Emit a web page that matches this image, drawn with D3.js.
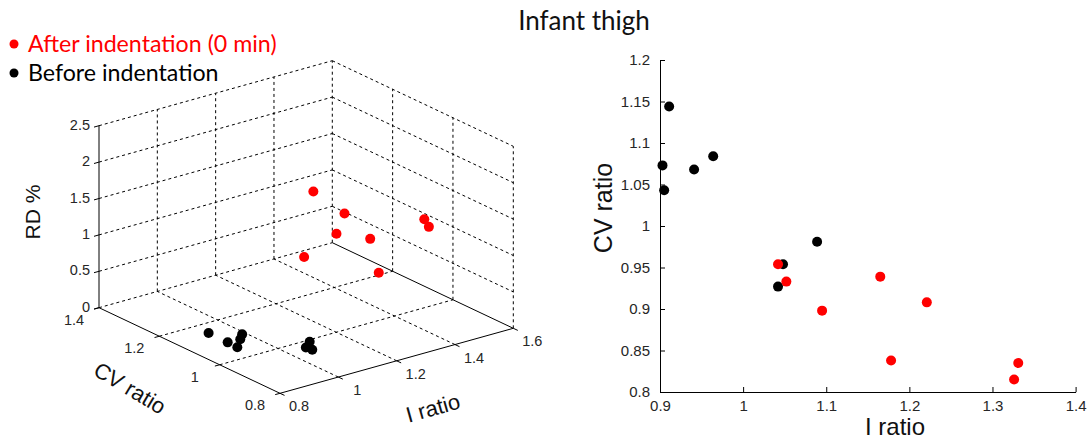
<!DOCTYPE html>
<html>
<head>
<meta charset="utf-8">
<script src="https://cdn.jsdelivr.net/npm/d3@7"></script>
<style>
  body { margin: 0; background: #fff; }
  svg { display: block; }
</style>
</head>
<body>
<div id="chart"></div>
<script>
// Data: after indentation (red) and before indentation (black)
const iAfter  = [1.042, 1.052, 1.095, 1.165, 1.221, 1.178, 1.331, 1.326];
const cvAfter = [0.954, 0.933, 0.898, 0.939, 0.908, 0.838, 0.835, 0.815];
const rdAfter = [1.30, 2.23, 1.67, 1.79, 1.44, 1.16, 1.73, 1.67];

const iBefore  = [0.911, 0.903, 0.905, 0.941, 0.964, 1.089, 1.048, 1.042];
const cvBefore = [1.144, 1.073, 1.043, 1.068, 1.084, 0.981, 0.954, 0.927];
const rdBefore = [0.03, 0.05, 0.04, 0.06, 0.07, 0.03, 0.05, 0.08];

const zTicks3d = [0, 0.5, 1, 1.5, 2, 2.5];
const cvTicks3d = [0.8, 1, 1.2, 1.4];
const iTicks3d = [0.8, 1, 1.2, 1.4, 1.6];
const xTicks2d = [0.9, 1, 1.1, 1.2, 1.3, 1.4];
const yTicks2d = [0.8, 0.85, 0.9, 0.95, 1, 1.05, 1.1, 1.15, 1.2];

const width = 1090, height = 442;
const red = "#ff0000", black = "#000000";
const tickFont = "'Liberation Sans', Arial, sans-serif";
const textColor = "#262626";

const svg = d3.select("#chart").append("svg")
    .attr("width", width)
    .attr("height", height);

// Title and legend
svg.append("text")
    .attr("x", 584).attr("y", 30)
    .attr("text-anchor", "middle")
    .attr("font-family", "Lato, 'Open Sans', sans-serif")
    .attr("font-size", "26px")
    .attr("fill", "#111")
    .text("Infant thigh");

const legendItems = [
    { label: "After indentation (0 min)", color: red, y: 44 },
    { label: "Before indentation", color: black, y: 73 }
];
const legend = svg.selectAll(".legend")
    .data(legendItems)
    .enter()
    .append("g")
    .attr("class", "legend");
legend.append("circle")
    .attr("cx", 14).attr("cy", d => d.y)
    .attr("r", 4.5)
    .attr("fill", d => d.color);
legend.append("text")
    .attr("x", 28).attr("y", d => d.y)
    .attr("dy", "0.35em")
    .attr("font-family", "Lato, 'Open Sans', sans-serif")
    .attr("font-size", "23.2px")
    .attr("fill", d => d.color)
    .text(d => d.label);

// ---------- 3D plot (orthographic projection) ----------
const front = [280, 393.3];          // I=0.8, CV=0.8, RD=0
const iVec = [233.3, -65];           // full I range
const cvVec = [-181, -85.6];         // full CV range
const zVec = [0, -182];              // full RD range

const iS = d3.scaleLinear().domain([0.8, 1.6]).range([0, 1]);
const cvS = d3.scaleLinear().domain([0.8, 1.4]).range([0, 1]);
const zS = d3.scaleLinear().domain([0, 2.5]).range([0, 1]);

function proj(i, cv, z) {
    const a = iS(i), b = cvS(cv), c = zS(z);
    return [
        front[0] + a * iVec[0] + b * cvVec[0] + c * zVec[0],
        front[1] + a * iVec[1] + b * cvVec[1] + c * zVec[1]
    ];
}

const g3 = svg.append("g").attr("class", "plot3d");
const line = d3.line();

function seg(p, q, dashed) {
    g3.append("path")
        .attr("d", line([p, q]))
        .attr("fill", "none")
        .attr("stroke", "#000")
        .attr("stroke-width", 1)
        .attr("stroke-dasharray", dashed ? "3,3" : null);
}

// wall grid: back wall at CV=1.4 and side wall at I=1.6
zTicks3d.forEach(z => {
    seg(proj(0.8, 1.4, z), proj(1.6, 1.4, z), true);
    if (z > 0) seg(proj(1.6, 1.4, z), proj(1.6, 0.8, z), true);
});
iTicks3d.slice(1).forEach(i => seg(proj(i, 1.4, 0), proj(i, 1.4, 2.5), true));
cvTicks3d.slice(0, -1).forEach(cv => seg(proj(1.6, cv, 0), proj(1.6, cv, 2.5), true));

// floor grid
iTicks3d.slice(1, -1).forEach(i => seg(proj(i, 0.8, 0), proj(i, 1.4, 0), true));
cvTicks3d.slice(1, -1).forEach(cv => seg(proj(0.8, cv, 0), proj(1.6, cv, 0), true));

// solid axes
seg(proj(0.8, 1.4, 0), proj(0.8, 1.4, 2.5), false);
seg(proj(0.8, 1.4, 0), proj(0.8, 0.8, 0), false);
seg(proj(0.8, 0.8, 0), proj(1.6, 0.8, 0), false);
seg(proj(1.6, 1.4, 0), proj(1.6, 0.8, 0), false);

// ticks and tick labels
zTicks3d.forEach(z => {
    const p = proj(0.8, 1.4, z);
    seg(p, [p[0] - 5, p[1] + 1.4], false);
    g3.append("text")
        .attr("x", p[0] - 9).attr("y", p[1] - 1)
        .attr("dy", "0.35em")
        .attr("text-anchor", "end")
        .attr("font-family", tickFont)
        .attr("font-size", "14.5px")
        .attr("fill", textColor)
        .text(z);
});
cvTicks3d.forEach(cv => {
    const p = proj(0.8, cv, 0);
    seg(p, [p[0] - 4.8, p[1] + 1.3], false);
    g3.append("text")
        .attr("x", p[0] - 25).attr("y", p[1] + 12)
        .attr("dy", "0.35em")
        .attr("text-anchor", "middle")
        .attr("font-family", tickFont)
        .attr("font-size", "14.5px")
        .attr("fill", textColor)
        .text(cv);
});
iTicks3d.forEach(i => {
    const p = proj(i, 0.8, 0);
    seg(p, [p[0] + 4.5, p[1] + 2.1], false);
    g3.append("text")
        .attr("x", p[0] + 19).attr("y", p[1] + 13)
        .attr("dy", "0.35em")
        .attr("text-anchor", "middle")
        .attr("font-family", tickFont)
        .attr("font-size", "14.5px")
        .attr("fill", textColor)
        .text(i);
});

// axis labels
g3.append("text")
    .attr("transform", "translate(40,212) rotate(-90)")
    .attr("text-anchor", "middle")
    .attr("font-family", tickFont)
    .attr("font-size", "21px")
    .attr("fill", "#111")
    .text("RD %");
g3.append("text")
    .attr("transform", "translate(130,388) rotate(31)")
    .attr("text-anchor", "middle")
    .attr("dy", "0.35em")
    .attr("font-family", tickFont)
    .attr("font-size", "22px")
    .attr("fill", "#111")
    .text("CV ratio");
g3.append("text")
    .attr("transform", "translate(433,408) rotate(-15.6)")
    .attr("text-anchor", "middle")
    .attr("dy", "0.35em")
    .attr("font-family", tickFont)
    .attr("font-size", "22px")
    .attr("fill", "#111")
    .text("I ratio");

// points
const before3d = iBefore.map((v, k) => proj(v, cvBefore[k], rdBefore[k]));
const after3d = iAfter.map((v, k) => proj(v, cvAfter[k], rdAfter[k]));
g3.selectAll(".pt-before").data(before3d).enter().append("circle")
    .attr("cx", d => d[0]).attr("cy", d => d[1])
    .attr("r", 5).attr("fill", black);
g3.selectAll(".pt-after").data(after3d).enter().append("circle")
    .attr("cx", d => d[0]).attr("cy", d => d[1])
    .attr("r", 5).attr("fill", red);

// ---------- 2D scatter ----------
const x = d3.scaleLinear().domain([0.9, 1.4]).range([660, 1075.6]);
const y = d3.scaleLinear().domain([0.8, 1.2]).range([392, 60]);
const g2 = svg.append("g").attr("class", "plot2d");

const xAxis = g2.append("g")
    .attr("transform", "translate(0,392)")
    .call(d3.axisBottom(x).tickValues(xTicks2d).tickSizeInner(-5).tickSizeOuter(0)
        .tickPadding(8).tickFormat(d => String(d)));
const yAxis = g2.append("g")
    .attr("transform", "translate(660,0)")
    .call(d3.axisLeft(y).tickValues(yTicks2d).tickSizeInner(-5).tickSizeOuter(0)
        .tickPadding(10).tickFormat(d => String(+d.toFixed(2))));
[xAxis, yAxis].forEach(a => {
    a.selectAll("path, line").attr("stroke", "#000");
    a.selectAll("text")
        .attr("font-family", tickFont)
        .attr("font-size", "15px")
        .attr("fill", textColor);
});

g2.append("text")
    .attr("x", 895).attr("y", 435)
    .attr("text-anchor", "middle")
    .attr("font-family", tickFont)
    .attr("font-size", "24px")
    .attr("fill", "#111")
    .text("I ratio");
g2.append("text")
    .attr("transform", "translate(612,208) rotate(-90)")
    .attr("text-anchor", "middle")
    .attr("font-family", tickFont)
    .attr("font-size", "25px")
    .attr("fill", "#111")
    .text("CV ratio");

g2.selectAll(".dot-before").data(iBefore).enter().append("circle")
    .attr("cx", d => x(d)).attr("cy", (d, k) => y(cvBefore[k]))
    .attr("r", 5).attr("fill", black);
g2.selectAll(".dot-after").data(iAfter).enter().append("circle")
    .attr("cx", d => x(d)).attr("cy", (d, k) => y(cvAfter[k]))
    .attr("r", 5).attr("fill", red);
</script>
</body>
</html>
